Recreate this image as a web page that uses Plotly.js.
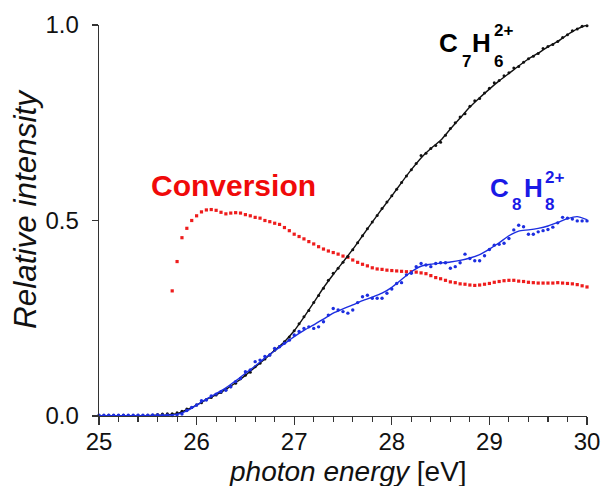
<!DOCTYPE html>
<html>
<head>
<meta charset="utf-8">
<script src="https://cdn.plot.ly/plotly-3.0.1.min.js"></script>
<style>html,body{margin:0;padding:0;background:#fff}#chart{width:602px;height:486px}</style>
</head>
<body>
<div id="chart"></div>
<script>
// photon energy grid of the measured points (0.05 eV)
const energy05 = [25.00,25.05,25.10,25.15,25.20,25.25,25.30,25.35,25.40,25.45,25.50,25.55,25.60,25.65,25.70,25.75,25.80,25.85,25.90,25.95,
  26.00,26.05,26.10,26.15,26.20,26.25,26.30,26.35,26.40,26.45,26.50,26.55,26.60,26.65,26.70,26.75,26.80,26.85,26.90,26.95,
  27.00,27.05,27.10,27.15,27.20,27.25,27.30,27.35,27.40,27.45,27.50,27.55,27.60,27.65,27.70,27.75,27.80,27.85,27.90,27.95,
  28.00,28.05,28.10,28.15,28.20,28.25,28.30,28.35,28.40,28.45,28.50,28.55,28.60,28.65,28.70,28.75,28.80,28.85,28.90,28.95,
  29.00,29.05,29.10,29.15,29.20,29.25,29.30,29.35,29.40,29.45,29.50,29.55,29.60,29.65,29.70,29.75,29.80,29.85,29.90,29.95,30.00];
// energy grid of the smooth fit curves (0.1 eV)
const energy10 = [25.0,25.1,25.2,25.3,25.4,25.5,25.6,25.7,25.8,25.9,26.0,26.1,26.2,26.3,26.4,26.5,26.6,26.7,26.8,26.9,
  27.0,27.1,27.2,27.3,27.4,27.5,27.6,27.7,27.8,27.9,28.0,28.1,28.2,28.3,28.4,28.5,28.6,28.7,28.8,28.9,
  29.0,29.1,29.2,29.3,29.4,29.5,29.6,29.7,29.8,29.9,30.0];
// Conversion points start at 25.75 eV
const conversionEnergy = energy05.slice(15);
const conversion = [0.32,0.395,0.456,0.48,0.50,0.512,0.522,0.527,0.528,0.526,
  0.521,0.517,0.519,0.52,0.519,0.515,0.512,0.508,0.506,0.50,
  0.497,0.493,0.49,0.482,0.474,0.465,0.459,0.453,0.446,0.44,
  0.433,0.427,0.422,0.418,0.414,0.409,0.406,0.399,0.393,0.388,
  0.384,0.379,0.376,0.375,0.373,0.372,0.371,0.37,0.369,0.369,
  0.368,0.366,0.364,0.359,0.354,0.351,0.347,0.343,0.341,0.338,
  0.337,0.335,0.334,0.335,0.337,0.339,0.342,0.344,0.346,0.347,
  0.347,0.345,0.344,0.342,0.341,0.34,0.34,0.34,0.34,0.341,
  0.34,0.339,0.338,0.336,0.333,0.33];
const c7h6Points = [0.001,0.001,0.002,0.001,0.001,0.002,0.001,0.001,0.002,0.001,
  0.002,0.002,0.004,0.005,0.006,0.006,0.008,0.012,0.018,0.022,
  0.028,0.034,0.042,0.047,0.054,0.06,0.067,0.075,0.084,0.095,
  0.104,0.112,0.126,0.135,0.146,0.156,0.168,0.178,0.19,0.202,
  0.218,0.236,0.254,0.27,0.29,0.308,0.327,0.347,0.365,0.378,
  0.393,0.408,0.425,0.443,0.461,0.479,0.496,0.513,0.531,0.547,
  0.563,0.58,0.597,0.614,0.63,0.646,0.666,0.672,0.684,0.692,
  0.70,0.718,0.735,0.75,0.765,0.773,0.792,0.806,0.812,0.826,
  0.838,0.852,0.858,0.87,0.878,0.89,0.894,0.905,0.914,0.92,
  0.927,0.94,0.945,0.95,0.958,0.968,0.975,0.985,0.99,0.997,0.998];
const c8h8Points = [0.002,0.002,0.002,0.002,0.002,0.002,0.002,0.002,0.002,0.002,
  0.002,0.003,0.003,0.002,0.002,0.001,0.003,0.005,0.014,0.022,
  0.028,0.039,0.041,0.051,0.056,0.062,0.066,0.075,0.088,0.096,
  0.113,0.118,0.139,0.143,0.152,0.156,0.173,0.177,0.186,0.194,
  0.207,0.216,0.224,0.228,0.224,0.228,0.241,0.258,0.275,0.271,
  0.267,0.263,0.271,0.29,0.305,0.309,0.301,0.301,0.301,0.314,
  0.325,0.339,0.341,0.361,0.365,0.382,0.39,0.386,0.382,0.39,
  0.392,0.392,0.378,0.382,0.392,0.414,0.403,0.397,0.397,0.41,
  0.426,0.437,0.439,0.442,0.454,0.476,0.488,0.484,0.465,0.465,
  0.471,0.474,0.477,0.483,0.494,0.508,0.506,0.504,0.499,0.499,0.499];
const c7h6Fit = [0.001,0.001,0.001,0.001,0.001,0.001,0.002,0.003,0.006,0.016,
  0.028,0.042,0.054,0.068,0.085,0.104,0.125,0.146,0.168,0.19,
  0.218,0.253,0.29,0.328,0.362,0.394,0.426,0.461,0.496,0.53,
  0.563,0.597,0.63,0.66,0.684,0.705,0.734,0.762,0.79,0.814,
  0.836,0.857,0.876,0.895,0.913,0.928,0.944,0.958,0.975,0.99,1.0];
const c8h8Fit = [0.001,0.001,0.001,0.001,0.001,0.001,0.001,0.002,0.004,0.013,
  0.028,0.043,0.057,0.072,0.09,0.109,0.128,0.148,0.167,0.185,
  0.203,0.219,0.233,0.248,0.263,0.274,0.284,0.295,0.304,0.314,
  0.329,0.349,0.369,0.383,0.388,0.391,0.394,0.398,0.404,0.413,
  0.427,0.443,0.461,0.473,0.476,0.48,0.486,0.495,0.505,0.51,0.502];
const xTicks = [25,26,27,28,29,30];
const yTicks = [0.0,0.5,1.0];

const RED = '#ee1c1c', BLUE = '#1c2ee0', BLACK = '#111111';
const FONT = 'Liberation Sans, Arial, sans-serif';

const traces = [
  {x: conversionEnergy, y: conversion, mode: 'markers', type: 'scatter', cliponaxis: false,
   marker: {symbol: 'square', size: 3.2, color: RED}},
  {x: energy05, y: c7h6Points, mode: 'markers', type: 'scatter', cliponaxis: false,
   marker: {symbol: 'circle', size: 3, color: BLACK}},
  {x: energy10, y: c7h6Fit, mode: 'lines', type: 'scatter', cliponaxis: false,
   line: {color: BLACK, width: 1.4, shape: 'spline', smoothing: 0.6}},
  {x: energy05, y: c8h8Points, mode: 'markers', type: 'scatter', cliponaxis: false,
   marker: {symbol: 'circle', size: 3.4, color: BLUE}},
  {x: energy10, y: c8h8Fit, mode: 'lines', type: 'scatter', cliponaxis: false,
   line: {color: BLUE, width: 1.4, shape: 'spline', smoothing: 0.6}}
];

// helpers to place labels by pixel position relative to the plot frame (paper coords)
const X0 = 99, PW = 488, Y0 = 416, PH = 391;
const px2x = p => (p - X0) / PW;
const px2y = p => (Y0 - p) / PH;
function lab(text, px, py, size, color, opts) {
  return Object.assign({x: px2x(px), y: px2y(py), xref: 'paper', yref: 'paper', text: text, showarrow: false,
    xanchor: 'center', yanchor: 'middle', font: {family: FONT, size: size, color: color}}, opts || {});
}

const layout = {
  width: 602, height: 486,
  margin: {l: 99, r: 15, t: 25, b: 70},
  paper_bgcolor: '#fff', plot_bgcolor: '#fff',
  showlegend: false,
  font: {family: FONT, color: '#111'},
  xaxis: {
    range: [25, 30], tickvals: xTicks, ticktext: xTicks.map(String),
    ticks: 'outside', ticklen: 8, tickwidth: 1.3, tickcolor: '#333',
    minor: {dtick: 0.2, ticks: 'outside', ticklen: 5, tickwidth: 1.1, tickcolor: '#333'},
    showline: true, linecolor: '#333', linewidth: 1.4, showgrid: false, zeroline: false,
    tickfont: {size: 24, family: FONT, color: '#111'}, ticklabelstandoff: -4,
    title: {text: ''}
  },
  yaxis: {
    range: [0, 1], tickvals: yTicks, ticktext: yTicks.map(v => v.toFixed(1)),
    ticks: 'outside', ticklen: 6, tickwidth: 1.3, tickcolor: '#333',
    showline: true, linecolor: '#333', linewidth: 1.4, showgrid: false, zeroline: false,
    tickfont: {size: 24, family: FONT, color: '#111'}, ticklabelstandoff: 8,
    title: {text: ''}
  },
  annotations: [
    lab('<i>photon energy</i> [eV]', 348, 471, 28, '#111'),
    lab('<i>Relative intensity</i>', 25, 209, 31.5, '#111', {textangle: -90}),
    lab('<b>Conversion</b>', 233, 185, 30, '#f00a0a'),
    lab('<b>C</b>', 448.5, 43, 26, '#000'),
    lab('<b>7</b>', 466, 61, 17, '#000'),
    lab('<b>H</b>', 481, 43, 26, '#000'),
    lab('<b>6</b>', 498, 61, 17, '#000'),
    lab('<b>2+</b>', 503, 30, 17, '#000'),
    lab('<b>C</b>', 499, 188, 26, '#1a1ae6'),
    lab('<b>8</b>', 516, 204, 17, '#1a1ae6'),
    lab('<b>H</b>', 533, 188, 26, '#1a1ae6'),
    lab('<b>8</b>', 549.5, 204, 17, '#1a1ae6'),
    lab('<b>2+</b>', 554, 178, 17, '#1a1ae6')
  ]
};

Plotly.newPlot('chart', traces, layout, {displayModeBar: false, staticPlot: true});
</script>
</body>
</html>
